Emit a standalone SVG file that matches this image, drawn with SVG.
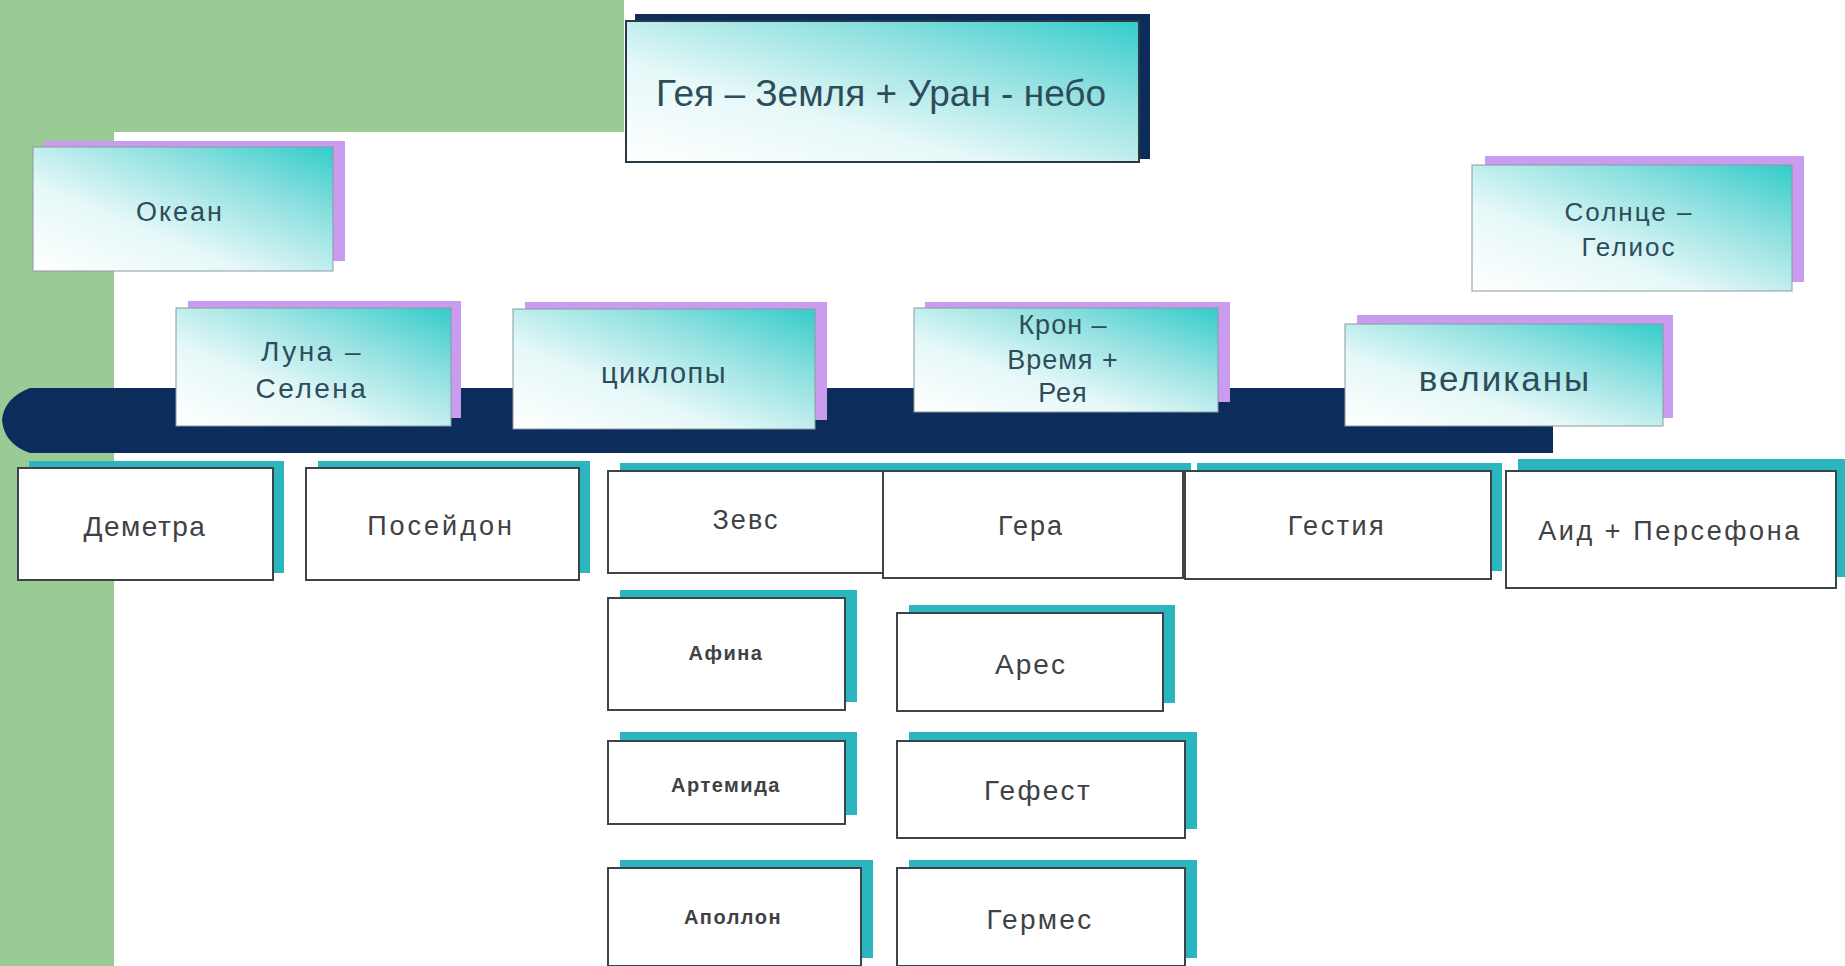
<svg xmlns="http://www.w3.org/2000/svg" width="1845" height="966" viewBox="0 0 1845 966">
<defs>
<linearGradient id="g" x1="0" y1="1" x2="1" y2="0">
<stop offset="0" stop-color="#ffffff"/>
<stop offset="0.35" stop-color="#e6f8f8"/>
<stop offset="0.7" stop-color="#8fe0e0"/>
<stop offset="1" stop-color="#33cccb"/>
</linearGradient>
<style>
.lav{fill:#c99cf0}
.nav{fill:#0c2d5c}
.teal{fill:#2bb6bf}
.gb{fill:url(#g);stroke:#8a9aa0;stroke-width:1}
.gbd{fill:url(#g);stroke:#2a3a44;stroke-width:2}
.wb{fill:#ffffff;stroke:#3c4448;stroke-width:2}
.t{font-family:"Liberation Sans",Arial,sans-serif;text-anchor:middle;dominant-baseline:central}
.tg{fill:#2e4d5a}
.tw{fill:#3e4244}
</style>
</defs>
<rect width="1845" height="966" fill="#ffffff"/>
<g id="background">
<rect x="0" y="0" width="624" height="132" fill="#9bcb94"/>
<rect x="0" y="0" width="114" height="966" fill="#9bcb94"/>
</g>
<g id="connectors">
<path class="nav" d="M1553,388 L30,388 Q4,398 2,420 Q4,444 30,453 L1553,453 Z"/>
</g>
<g id="n-geya">
<rect class="nav" x="635" y="14" width="515" height="145"/>
<rect class="gbd" x="626" y="21" width="513" height="141"/>
<text class="t tg" x="881" y="93" font-size="37">Гея – Земля + Уран - небо</text>
</g>
<g id="n-okean">
<rect class="lav" x="44" y="141" width="301" height="120"/>
<rect class="gb" x="33" y="147" width="300" height="124"/>
<text class="t tg" x="180" y="212" font-size="27" letter-spacing="2">Океан</text>
</g>
<g id="n-luna">
<rect class="lav" x="188" y="301" width="273" height="117"/>
<rect class="gb" x="176" y="308" width="275" height="118"/>
<text class="t tg" x="312" y="351" font-size="28" letter-spacing="2.5">Луна –</text>
<text class="t tg" x="312" y="388" font-size="28" letter-spacing="2.5">Селена</text>
</g>
<g id="n-tsiklopy">
<rect class="lav" x="525" y="302" width="302" height="118"/>
<rect class="gb" x="513" y="309" width="302" height="120"/>
<text class="t tg" x="664" y="373" font-size="29" letter-spacing="1.5">циклопы</text>
</g>
<g id="n-kron">
<rect class="lav" x="925" y="302" width="305" height="100"/>
<rect class="gb" x="914" y="308" width="304" height="104"/>
<text class="t tg" x="1063" y="325" font-size="27" letter-spacing="1">Крон –</text>
<text class="t tg" x="1063" y="360" font-size="27" letter-spacing="1">Время +</text>
<text class="t tg" x="1063" y="393" font-size="27" letter-spacing="1">Рея</text>
</g>
<g id="n-velikany">
<rect class="lav" x="1357" y="315" width="316" height="103"/>
<rect class="gb" x="1345" y="324" width="318" height="102"/>
<text class="t tg" x="1505" y="378" font-size="35" letter-spacing="2">великаны</text>
</g>
<g id="n-solntse">
<rect class="lav" x="1485" y="156" width="319" height="126"/>
<rect class="gb" x="1472" y="165" width="320" height="126"/>
<text class="t tg" x="1629" y="212" font-size="26" letter-spacing="2">Солнце –</text>
<text class="t tg" x="1629" y="247" font-size="26" letter-spacing="2">Гелиос</text>
</g>
<g id="n-demetra">
<rect class="teal" x="29" y="461" width="255" height="112"/>
<rect class="wb" x="18" y="468" width="255" height="112"/>
<text class="t tw" x="145" y="526" font-size="28" letter-spacing="1.5">Деметра</text>
</g>
<g id="n-poseydon">
<rect class="teal" x="318" y="461" width="272" height="112"/>
<rect class="wb" x="306" y="468" width="273" height="112"/>
<text class="t tw" x="441" y="526" font-size="27" letter-spacing="3">Посейдон</text>
</g>
<g id="n-zevs">
<rect class="teal" x="620" y="463" width="275" height="102"/>
<rect class="wb" x="608" y="471" width="275" height="102"/>
<text class="t tw" x="746" y="520" font-size="27" letter-spacing="2">Зевс</text>
</g>
<g id="n-gera">
<rect class="teal" x="895" y="463" width="296" height="107"/>
<rect class="wb" x="883" y="471" width="300" height="107"/>
<text class="t tw" x="1031" y="526" font-size="27" letter-spacing="2">Гера</text>
</g>
<g id="n-gestiya">
<rect class="teal" x="1197" y="463" width="305" height="108"/>
<rect class="wb" x="1185" y="471" width="306" height="108"/>
<text class="t tw" x="1337" y="526" font-size="27" letter-spacing="2.5">Гестия</text>
</g>
<g id="n-aid">
<rect class="teal" x="1518" y="459" width="327" height="118"/>
<rect class="wb" x="1506" y="471" width="330" height="117"/>
<text class="t tw" x="1670" y="531" font-size="27" letter-spacing="2.6">Аид + Персефона</text>
</g>
<g id="n-afina">
<rect class="teal" x="620" y="590" width="237" height="112"/>
<rect class="wb" x="608" y="598" width="237" height="112"/>
<text class="t tw" x="726" y="653" font-size="20" font-weight="bold" letter-spacing="1.5">Афина</text>
</g>
<g id="n-ares">
<rect class="teal" x="909" y="605" width="266" height="98"/>
<rect class="wb" x="897" y="613" width="266" height="98"/>
<text class="t tw" x="1031" y="664" font-size="28" letter-spacing="2">Арес</text>
</g>
<g id="n-artemida">
<rect class="teal" x="620" y="732" width="237" height="83"/>
<rect class="wb" x="608" y="741" width="237" height="83"/>
<text class="t tw" x="726" y="785" font-size="20" font-weight="bold" letter-spacing="1.5">Артемида</text>
</g>
<g id="n-gefest">
<rect class="teal" x="909" y="732" width="288" height="97"/>
<rect class="wb" x="897" y="741" width="288" height="97"/>
<text class="t tw" x="1038" y="790" font-size="28" letter-spacing="2.3">Гефест</text>
</g>
<g id="n-apollon">
<rect class="teal" x="620" y="860" width="253" height="98"/>
<rect class="wb" x="608" y="868" width="253" height="98"/>
<text class="t tw" x="733" y="917" font-size="20" font-weight="bold" letter-spacing="1.5">Аполлон</text>
</g>
<g id="n-germes">
<rect class="teal" x="909" y="860" width="288" height="98"/>
<rect class="wb" x="897" y="868" width="288" height="98"/>
<text class="t tw" x="1040" y="919" font-size="28" letter-spacing="2.3">Гермес</text>
</g>
</svg>
